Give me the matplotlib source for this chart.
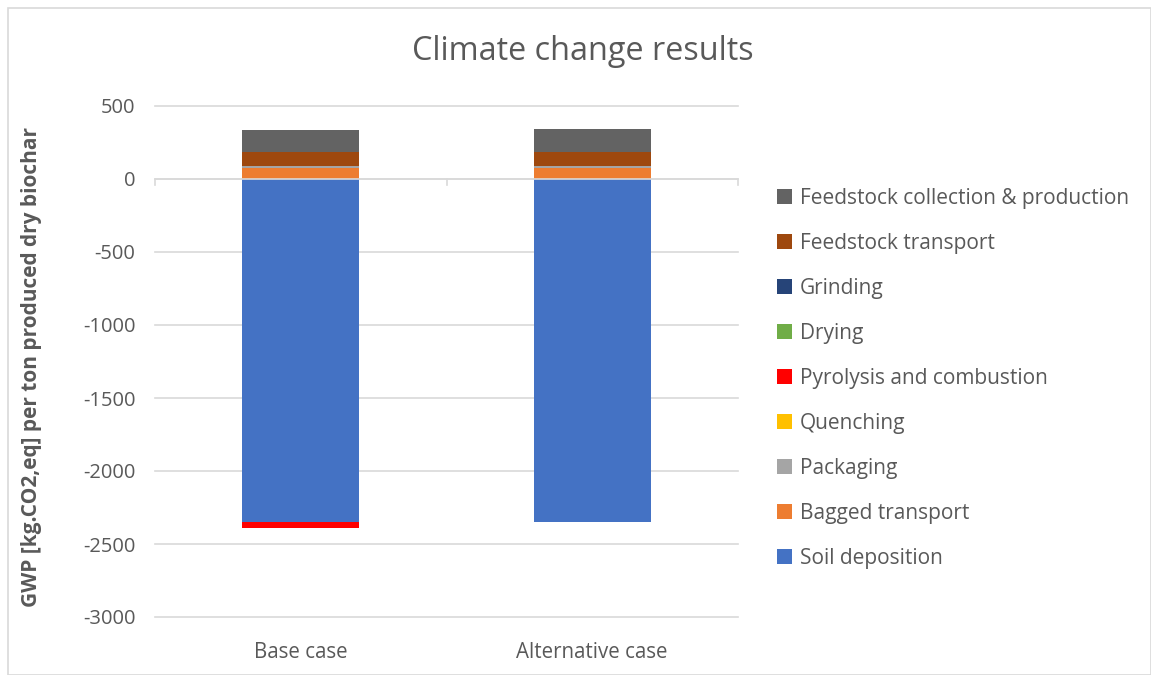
import matplotlib
matplotlib.use("Agg")
import matplotlib.pyplot as plt
from matplotlib.patches import Rectangle
import numpy as np

plt.rcParams['font.family'] = ['Open Sans', 'DejaVu Sans']

categories = ["Base case", "Alternative case"]

# stacking order from the bar bottom upwards (legend shows it reversed)
series_names = [
    "Soil deposition",
    "Bagged transport",
    "Packaging",
    "Quenching",
    "Pyrolysis and combustion",
    "Drying",
    "Grinding",
    "Feedstock transport",
    "Feedstock collection & production",
]
soil_deposition = [-2350, -2350]
bagged_transport = [75, 75]
packaging = [15, 15]
quenching = [0, 0]
pyrolysis_combustion = [-40, 0]
drying = [0, 0]
grinding = [2, 2]
feedstock_transport = [93, 93]
feedstock_collection = [153, 155]

series_values = [
    soil_deposition, bagged_transport, packaging, quenching,
    pyrolysis_combustion, drying, grinding, feedstock_transport,
    feedstock_collection,
]
series_colors = [
    "#4472C4", "#ED7D31", "#A5A5A5", "#FFC000", "#FF0000",
    "#70AD47", "#264478", "#9E480E", "#636363",
]

yticks = [500, 0, -500, -1000, -1500, -2000, -2500, -3000]

text_color = "#595959"
grid_color = "#D9D9D9"
W, H = 1151, 675
fig = plt.figure(figsize=(W / 100, H / 100), dpi=100)

# chart border
fig.patches.append(Rectangle((8 / W, 0), 1 - 8 / W, 1 - 8 / H, transform=fig.transFigure,
                             fill=False, edgecolor=grid_color, linewidth=1.2))

ax = fig.add_axes([155 / W, 1 - 617 / H, (738 - 155) / W, (617 - 106) / H])

x = np.arange(len(categories))
pos_base = np.zeros(len(categories))
neg_base = np.zeros(len(categories))
handles = []
for name, vals, col in zip(series_names, series_values, series_colors):
    vals = np.array(vals, dtype=float)
    bottoms = np.where(vals >= 0, pos_base, neg_base)
    h = ax.bar(x, vals, width=0.4, bottom=bottoms, color=col, label=name,
               zorder=3, linewidth=0)
    handles.append(h)
    pos_base += np.where(vals >= 0, vals, 0)
    neg_base += np.where(vals < 0, vals, 0)

ax.set_xlim(-0.5, 1.5)
ax.set_ylim(-3000, 500)
ax.set_yticks(yticks)
ax.set_yticklabels([str(t) for t in yticks])
for t in yticks:
    ax.axhline(t, color=grid_color, linewidth=1.2, zorder=0, clip_on=False)
for s in ax.spines.values():
    s.set_visible(False)
ax.tick_params(axis='y', length=0, labelsize=14.5, labelcolor=text_color, pad=14)
ax.tick_params(axis='x', length=0, labelsize=14.8, labelcolor=text_color, pad=18)
ax.set_xticks(x)
ax.set_xticklabels(categories)

# category axis drawn at zero with small separator ticks
ax.axhline(0, color=grid_color, linewidth=1.2, zorder=4)
for xb in [-0.5, 0.5, 1.5]:
    ax.plot([xb, xb], [0, -40], color=grid_color, linewidth=1.2, zorder=4,
            clip_on=False)

ax.set_ylabel("GWP [kg.CO2,eq] per ton produced dry biochar", fontsize=15,
              fontweight="bold", color=text_color)
ax.yaxis.set_label_coords(-113 / 583, 0.49)

fig.text(583 / W, 1 - 52 / H, "Climate change results", ha="center", va="center",
         fontsize=23.3, color=text_color)

leg = ax.legend(handles[::-1], series_names[::-1], loc="upper left",
                bbox_to_anchor=(777 / W, 1 - 188 / H), bbox_transform=fig.transFigure,
                frameon=False, fontsize=15, labelcolor=text_color,
                handlelength=0.7, handleheight=0.7, handletextpad=0.4,
                labelspacing=1.15, borderpad=0, borderaxespad=0)

fig.savefig("out.png", dpi=100)
